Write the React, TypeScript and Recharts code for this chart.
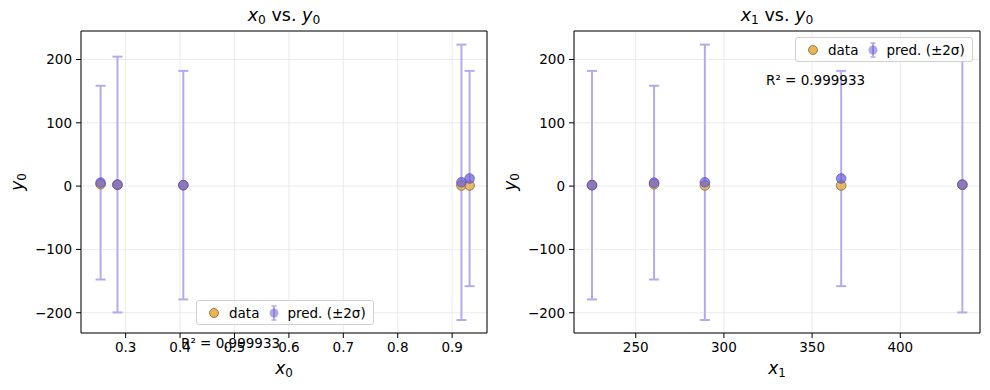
import React from "react";
import { ScatterChart, Scatter, XAxis, YAxis, CartesianGrid, ErrorBar, ReferenceArea } from "recharts";

// five samples, same order in both panels
const sampleX0 = [0.254, 0.285, 0.406, 0.917, 0.932];
const sampleX1 = [260.4, 435.2, 225.2, 289.2, 366.5];
const dataY0 = [3, 2, 1.5, 1, 1];
const predY0 = [5.5, 2.5, 1.5, 6, 12];
const predErr = [153, 202, 180.5, 217.5, 170];

const x0Ticks = [0.3, 0.4, 0.5, 0.6, 0.7, 0.8, 0.9];
const x1Ticks = [250, 300, 350, 400];
const yTicks = [-200, -100, 0, 100, 200];

const x0Domain = [0.218, 0.964];
const x1Domain = [215, 445.2];
const yDomain = [-232, 245];

const r2Text = "R² = 0.999933";

const FONT = "'DejaVu Sans', sans-serif";
const DATA_FILL = "#e6b656";
const PRED_FILL = "#6b5fd6";
const BAR_COLOR = "#b4abee";

const minus = (s: string) => s.replace("-", "\u2212");

const DataDot = (p: any) => (
  <circle cx={p.cx} cy={p.cy} r={4.8} fill={DATA_FILL} fillOpacity={0.9} stroke="#6e5624" strokeWidth={0.7} />
);
const PredDot = (p: any) => (
  <circle cx={p.cx} cy={p.cy} r={4.8} fill={PRED_FILL} fillOpacity={0.72} stroke="#5548c4" strokeWidth={0.7} />
);

function Sym({ v, s }: { v: string; s: string }) {
  return (
    <span>
      <i>{v}</i>
      <sub style={{ fontSize: "0.7em", verticalAlign: "-0.25em" }}>{s}</sub>
    </span>
  );
}

function LegendBox({ left, top }: { left: number; top: number }) {
  return (
    <div
      style={{
        position: "absolute",
        left,
        top,
        width: 178,
        height: 25,
        padding: "0 0 0 11px",
        border: "1px solid #d0d0d0",
        borderRadius: 3,
        background: "rgba(255,255,255,0.85)",
        display: "flex",
        alignItems: "center",
        fontFamily: FONT,
        fontSize: 13.5,
        color: "#000",
        boxSizing: "border-box",
        whiteSpace: "nowrap",
      }}
    >
      <svg width={12} height={12} style={{ marginRight: 9 }}>
        <circle cx={6} cy={6} r={4.5} fill={DATA_FILL} stroke="#6e5624" strokeWidth={0.7} />
      </svg>
      <span style={{ marginRight: 9 }}>data</span>
      <svg width={12} height={18} style={{ marginRight: 7 }}>
        <line x1={6} y1={2} x2={6} y2={16} stroke={BAR_COLOR} strokeWidth={2} />
        <line x1={3.5} y1={2} x2={8.5} y2={2} stroke={BAR_COLOR} strokeWidth={1.5} />
        <line x1={3.5} y1={16} x2={8.5} y2={16} stroke={BAR_COLOR} strokeWidth={1.5} />
        <circle cx={6} cy={9} r={4.5} fill={PRED_FILL} fillOpacity={0.55} />
      </svg>
      <span>pred. (±2σ)</span>
    </div>
  );
}

interface PanelProps {
  xs: number[];
  xTicks: number[];
  xDomain: number[];
  fmt: (v: number) => string;
  yAxisWidth: number;
  marginRight: number;
}

function Panel({ xs, xTicks, xDomain, fmt, yAxisWidth, marginRight }: PanelProps) {
  const obs = xs.map((x, i) => ({ x, y: dataY0[i] }));
  const pred = xs.map((x, i) => ({ x, y: predY0[i], err: predErr[i] }));
  const tick = { fill: "#000", fontSize: 13.5, fontFamily: FONT };
  return (
    <ScatterChart width={495} height={390} margin={{ top: 31, right: marginRight, bottom: 0, left: 0 }}>
      <CartesianGrid stroke="#e6e6e6" strokeWidth={0.8} />
      <XAxis
        type="number"
        dataKey="x"
        domain={xDomain}
        ticks={xTicks}
        allowDataOverflow
        height={57}
        axisLine={false}
        tickSize={5}
        tickMargin={4}
        tickLine={{ stroke: "#000" }}
        tick={tick}
        tickFormatter={fmt}
      />
      <YAxis
        type="number"
        dataKey="y"
        domain={yDomain}
        ticks={yTicks}
        allowDataOverflow
        width={yAxisWidth}
        axisLine={false}
        tickSize={5}
        tickMargin={4}
        tickLine={{ stroke: "#000" }}
        tick={tick}
        tickFormatter={(v: number) => minus(String(v))}
      />
      <ReferenceArea
        x1={xDomain[0]}
        x2={xDomain[1]}
        y1={yDomain[0]}
        y2={yDomain[1]}
        fill="none"
        stroke="#000"
        strokeWidth={1}
        ifOverflow="visible"
      />
      <Scatter data={obs} shape={DataDot} isAnimationActive={false} />
      <Scatter data={pred} shape={PredDot} isAnimationActive={false}>
        <ErrorBar dataKey="err" direction="y" width={5} stroke={BAR_COLOR} strokeWidth={2} />
      </Scatter>
    </ScatterChart>
  );
}

const txt: React.CSSProperties = { position: "absolute", fontFamily: FONT, color: "#000", whiteSpace: "nowrap" };

export default function App() {
  return (
    <div style={{ position: "absolute", left: 0, top: 0, width: 990, height: 390, background: "#fff" }}>
      <div style={{ position: "absolute", left: 0, top: 0 }}>
        <Panel xs={sampleX0} xTicks={x0Ticks} xDomain={x0Domain} fmt={(v) => v.toFixed(1)} yAxisWidth={81} marginRight={8} />
      </div>
      <div style={{ position: "absolute", left: 495, top: 0 }}>
        <Panel xs={sampleX1} xTicks={x1Ticks} xDomain={x1Domain} fmt={(v) => String(v)} yAxisWidth={79} marginRight={10} />
      </div>

      {/* titles */}
      <div style={{ ...txt, left: 184, width: 200, top: 5, textAlign: "center", fontSize: 17.5 }}>
        <Sym v="x" s="0" /> vs. <Sym v="y" s="0" />
      </div>
      <div style={{ ...txt, left: 677, width: 200, top: 5, textAlign: "center", fontSize: 17.5 }}>
        <Sym v="x" s="1" /> vs. <Sym v="y" s="0" />
      </div>

      {/* x labels */}
      <div style={{ ...txt, left: 234, width: 100, top: 358, textAlign: "center", fontSize: 17 }}>
        <Sym v="x" s="0" />
      </div>
      <div style={{ ...txt, left: 727, width: 100, top: 358, textAlign: "center", fontSize: 17 }}>
        <Sym v="x" s="1" />
      </div>

      {/* y labels */}
      <div style={{ ...txt, left: -32, width: 100, top: 171, textAlign: "center", fontSize: 17, transform: "rotate(-90deg)" }}>
        <Sym v="y" s="0" />
      </div>
      <div style={{ ...txt, left: 461, width: 100, top: 171, textAlign: "center", fontSize: 17, transform: "rotate(-90deg)" }}>
        <Sym v="y" s="0" />
      </div>

      {/* R² annotations (left one sits on the tick labels, as in the original) */}
      <div style={{ ...txt, left: 181, top: 335, fontSize: 13.5 }}>{r2Text}</div>
      <div style={{ ...txt, left: 766, top: 72, fontSize: 13.5 }}>{r2Text}</div>

      <LegendBox left={196} top={300} />
      <LegendBox left={795} top={37} />
    </div>
  );
}
